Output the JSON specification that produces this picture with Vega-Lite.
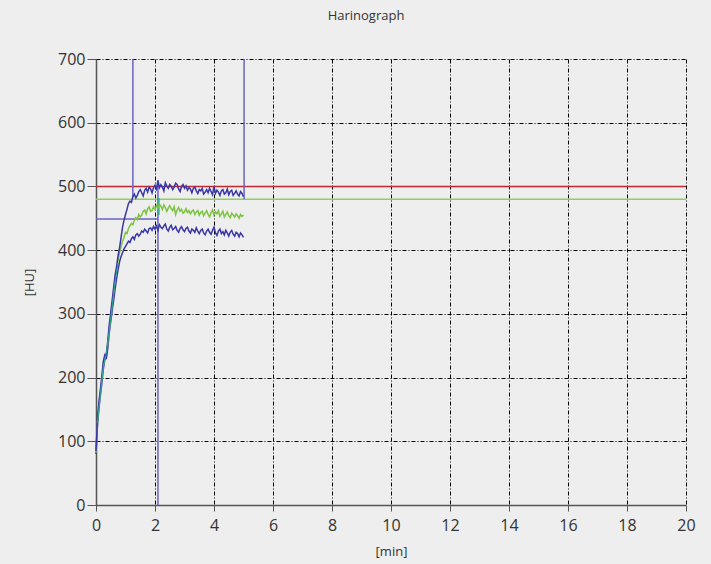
{
  "$schema": "https://vega.github.io/schema/vega-lite/v6.json",
  "width": 590,
  "height": 446,
  "autosize": {"type": "none"},
  "padding": {"left": 96, "top": 59, "right": 25, "bottom": 59},
  "background": "#eeeeee",
  "title": {"text": "Harinograph", "font": "Open Sans", "fontSize": 13, "fontWeight": "normal", "color": "#333333", "anchor": "middle", "dx": -25, "offset": 28},
  "config": {
    "view": {"stroke": null},
    "axis": {
      "grid": true, "gridColor": "#000000", "gridDash": [4, 2, 1, 2], "gridOpacity": 1, "gridWidth": 1,
      "domainColor": "#555555", "domainWidth": 1.5, "tickColor": "#555555", "tickWidth": 1,
      "labelFont": "Open Sans", "labelFontSize": 16, "labelColor": "#333333",
      "titleFont": "Open Sans", "titleFontSize": 13, "titleFontWeight": "normal", "titleColor": "#333333"
    }
  },
  "encoding": {
    "x": {"field": "x", "type": "quantitative", "scale": {"domain": [0, 20], "nice": false},
      "axis": {"title": "[min]", "values": [0, 2, 4, 6, 8, 10, 12, 14, 16, 18, 20], "tickSize": 6, "labelPadding": 6, "titlePadding": 12, "labelFlush": false}},
    "y": {"field": "y", "type": "quantitative", "scale": {"domain": [0, 700], "nice": false},
      "axis": {"title": "[HU]", "values": [0, 100, 200, 300, 400, 500, 600, 700], "tickSize": 9, "labelPadding": 2, "titlePadding": 21}},
    "color": {"field": "c", "type": "nominal", "legend": null,
      "scale": {"domain": ["red", "green", "violet", "teal", "l", "m", "u", "t"],
        "range": ["#c8282d", "#8fd05a", "#6a62c8", "#2aa89a", "#3a36a6", "#7cc440", "#3a36a6", "#2aa89a"]}}
  },
  "layer": [
    {
      "data": {"values": [
        {"x": 0, "x2": 20, "y": 500, "y2": 500, "c": "red"},
        {"x": 0, "x2": 20, "y": 480, "y2": 480, "c": "green"},
        {"x": 0, "x2": 2.1, "y": 449, "y2": 449, "c": "violet"},
        {"x": 1.25, "x2": 1.25, "y": 483, "y2": 700, "c": "violet"},
        {"x": 5.02, "x2": 5.02, "y": 480, "y2": 700, "c": "violet"},
        {"x": 2.1, "x2": 2.1, "y": 0, "y2": 510, "c": "violet"},
        {"x": 2.13, "x2": 2.13, "y": 455, "y2": 482, "c": "teal"}
      ]},
      "mark": {"type": "rule", "strokeWidth": 1.5},
      "encoding": {"x2": {"field": "x2"}, "y2": {"field": "y2"}}
    },
    {
      "data": {"values": [
        {"x": 0.00, "u": 85, "m": 82, "l": 80},
        {"x": 0.05, "u": 135, "m": 130, "l": 125},
        {"x": 0.10, "u": 162, "m": 158, "l": 152},
        {"x": 0.15, "u": 182, "m": 178, "l": 172},
        {"x": 0.20, "u": 203, "m": 198, "l": 192},
        {"x": 0.25, "u": 226, "m": 220, "l": 214},
        {"x": 0.30, "u": 236, "m": 232, "l": 228},
        {"x": 0.35, "u": 234, "m": 240, "l": 230},
        {"x": 0.40, "u": 258, "m": 252, "l": 246},
        {"x": 0.45, "u": 283, "m": 276, "l": 270},
        {"x": 0.50, "u": 302, "m": 296, "l": 288},
        {"x": 0.55, "u": 322, "m": 316, "l": 306},
        {"x": 0.60, "u": 342, "m": 335, "l": 322},
        {"x": 0.65, "u": 362, "m": 356, "l": 340},
        {"x": 0.70, "u": 375, "m": 370, "l": 356},
        {"x": 0.75, "u": 392, "m": 384, "l": 370},
        {"x": 0.80, "u": 404, "m": 396, "l": 382},
        {"x": 0.85, "u": 420, "m": 406, "l": 390},
        {"x": 0.90, "u": 436, "m": 414, "l": 396},
        {"x": 0.95, "u": 447, "m": 420, "l": 402},
        {"x": 1.00, "u": 456, "m": 428, "l": 406},
        {"x": 1.05, "u": 464, "m": 426, "l": 410},
        {"x": 1.10, "u": 473, "m": 434, "l": 414},
        {"x": 1.15, "u": 477, "m": 438, "l": 412},
        {"x": 1.20, "u": 475, "m": 442, "l": 418},
        {"x": 1.25, "u": 484, "m": 440, "l": 421},
        {"x": 1.30, "u": 488, "m": 447, "l": 417},
        {"x": 1.35, "u": 482, "m": 451, "l": 424},
        {"x": 1.40, "u": 486, "m": 448, "l": 426},
        {"x": 1.45, "u": 492, "m": 456, "l": 422},
        {"x": 1.50, "u": 495, "m": 452, "l": 425},
        {"x": 1.55, "u": 490, "m": 455, "l": 430},
        {"x": 1.60, "u": 485, "m": 461, "l": 428},
        {"x": 1.65, "u": 494, "m": 463, "l": 433},
        {"x": 1.70, "u": 497, "m": 457, "l": 430},
        {"x": 1.75, "u": 491, "m": 465, "l": 427},
        {"x": 1.80, "u": 499, "m": 468, "l": 434},
        {"x": 1.85, "u": 496, "m": 461, "l": 435},
        {"x": 1.90, "u": 490, "m": 462, "l": 431},
        {"x": 1.95, "u": 498, "m": 468, "l": 437},
        {"x": 2.00, "u": 502, "m": 464, "l": 433},
        {"x": 2.05, "u": 496, "m": 470, "l": 438},
        {"x": 2.10, "u": 509, "m": 466, "l": 431},
        {"x": 2.15, "u": 498, "m": 472, "l": 440},
        {"x": 2.20, "u": 503, "m": 469, "l": 436},
        {"x": 2.25, "u": 499, "m": 464, "l": 434},
        {"x": 2.30, "u": 493, "m": 471, "l": 438},
        {"x": 2.35, "u": 506, "m": 467, "l": 441},
        {"x": 2.40, "u": 501, "m": 461, "l": 433},
        {"x": 2.45, "u": 497, "m": 466, "l": 430},
        {"x": 2.50, "u": 503, "m": 470, "l": 436},
        {"x": 2.55, "u": 500, "m": 465, "l": 439},
        {"x": 2.60, "u": 495, "m": 462, "l": 432},
        {"x": 2.65, "u": 499, "m": 468, "l": 434},
        {"x": 2.70, "u": 505, "m": 456, "l": 437},
        {"x": 2.75, "u": 503, "m": 463, "l": 431},
        {"x": 2.80, "u": 496, "m": 467, "l": 428},
        {"x": 2.85, "u": 492, "m": 461, "l": 434},
        {"x": 2.90, "u": 500, "m": 464, "l": 437},
        {"x": 2.95, "u": 503, "m": 458, "l": 432},
        {"x": 3.00, "u": 497, "m": 460, "l": 429},
        {"x": 3.05, "u": 501, "m": 465, "l": 434},
        {"x": 3.10, "u": 494, "m": 459, "l": 436},
        {"x": 3.15, "u": 498, "m": 462, "l": 430},
        {"x": 3.20, "u": 496, "m": 457, "l": 427},
        {"x": 3.25, "u": 490, "m": 461, "l": 433},
        {"x": 3.30, "u": 497, "m": 463, "l": 431},
        {"x": 3.35, "u": 499, "m": 456, "l": 428},
        {"x": 3.40, "u": 493, "m": 460, "l": 435},
        {"x": 3.45, "u": 489, "m": 462, "l": 430},
        {"x": 3.50, "u": 495, "m": 455, "l": 426},
        {"x": 3.55, "u": 493, "m": 459, "l": 431},
        {"x": 3.60, "u": 497, "m": 461, "l": 433},
        {"x": 3.65, "u": 488, "m": 454, "l": 427},
        {"x": 3.70, "u": 491, "m": 458, "l": 424},
        {"x": 3.75, "u": 495, "m": 462, "l": 430},
        {"x": 3.80, "u": 490, "m": 456, "l": 433},
        {"x": 3.85, "u": 497, "m": 452, "l": 428},
        {"x": 3.90, "u": 492, "m": 459, "l": 425},
        {"x": 3.95, "u": 487, "m": 463, "l": 431},
        {"x": 4.00, "u": 500, "m": 455, "l": 436},
        {"x": 4.05, "u": 489, "m": 460, "l": 427},
        {"x": 4.10, "u": 494, "m": 457, "l": 423},
        {"x": 4.15, "u": 491, "m": 462, "l": 430},
        {"x": 4.20, "u": 486, "m": 453, "l": 433},
        {"x": 4.25, "u": 493, "m": 457, "l": 426},
        {"x": 4.30, "u": 495, "m": 461, "l": 429},
        {"x": 4.35, "u": 488, "m": 452, "l": 424},
        {"x": 4.40, "u": 490, "m": 456, "l": 431},
        {"x": 4.45, "u": 496, "m": 460, "l": 427},
        {"x": 4.50, "u": 487, "m": 454, "l": 422},
        {"x": 4.55, "u": 492, "m": 451, "l": 428},
        {"x": 4.60, "u": 494, "m": 458, "l": 431},
        {"x": 4.65, "u": 486, "m": 455, "l": 425},
        {"x": 4.70, "u": 489, "m": 452, "l": 422},
        {"x": 4.75, "u": 493, "m": 457, "l": 428},
        {"x": 4.80, "u": 488, "m": 454, "l": 426},
        {"x": 4.85, "u": 485, "m": 450, "l": 421},
        {"x": 4.90, "u": 492, "m": 456, "l": 427},
        {"x": 4.95, "u": 489, "m": 453, "l": 424},
        {"x": 5.00, "u": 484, "m": 455, "l": 420}
      ]},
      "transform": [{"fold": ["l", "m", "u"], "as": ["c", "y"]}],
      "mark": {"type": "line", "strokeWidth": 1.5},
      "encoding": {"y": {"field": "y", "type": "quantitative"}}
    },
    {
      "data": {"values": [
        {"x": 0.05, "y": 128, "c": "t"},
        {"x": 0.15, "y": 176, "c": "t"},
        {"x": 0.25, "y": 218, "c": "t"},
        {"x": 0.35, "y": 238, "c": "t"},
        {"x": 0.45, "y": 274, "c": "t"},
        {"x": 0.55, "y": 313, "c": "t"},
        {"x": 0.65, "y": 352, "c": "t"},
        {"x": 0.75, "y": 380, "c": "t"}
      ]},
      "mark": {"type": "line", "strokeWidth": 1},
      "encoding": {}
    }
  ]
}
